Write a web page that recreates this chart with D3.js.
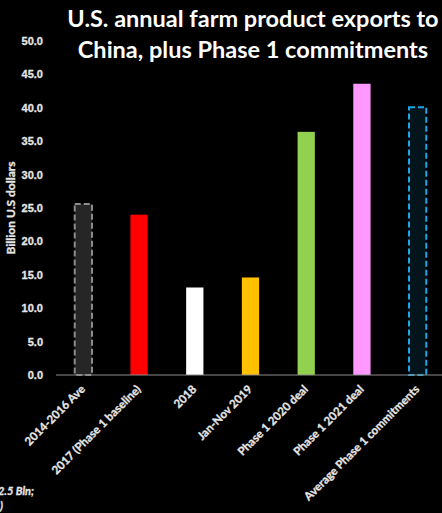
<!DOCTYPE html>
<html lang="en">
<head>
    <meta charset="UTF-8">
    <title>U.S. farm exports to China</title>
    <script src="https://d3js.org/d3.v7.min.js"></script>
    <style>
        body { margin: 0; background: #000; }
        svg { display: block; font-family: Lato, "Open Sans", sans-serif; }
        .small { font-size: 11px; font-weight: bold; fill: #e6e6e6; stroke: #e6e6e6; stroke-width: 0.3px; }
    </style>
</head>
<body>
    <div id="chart"></div>

    <script>
        // chart values (billion US dollars)
        const categories = ["2014-2016 Ave", "2017 (Phase 1 baseline)", "2018", "Jan-Nov 2019",
                            "Phase 1 2020 deal", "Phase 1 2021 deal", "Average Phase 1 commitments"];
        const values = [25.6, 24.0, 13.1, 14.6, 36.4, 43.6, 40.1];
        const fills = ["#262626", "#ff0000", "#ffffff", "#ffc000", "#92d050", "#ff99ff", "#04141d"];
        const outlines = ["#8c8c8c", null, null, null, null, null, "#1aa7e6"];
        const yTicks = [0, 5, 10, 15, 20, 25, 30, 35, 40, 45, 50];
        const titleLines = ["U.S. annual farm product exports to", "China, plus Phase 1 commitments"];

        const width = 442, height = 513;
        const margin = { top: 41, right: -3, bottom: 138, left: 55 };

        const svg = d3.select("#chart").append("svg")
            .attr("width", width)
            .attr("height", height);

        svg.append("rect").attr("width", width).attr("height", height).attr("fill", "#000");

        const x = d3.scaleBand()
            .domain(categories)
            .range([margin.left, width - margin.right])
            .paddingInner(0.69)
            .paddingOuter(0.345);

        const y = d3.scaleLinear()
            .domain([0, 50])
            .range([height - margin.bottom, margin.top]);

        // y axis labels
        const yAxis = svg.append("g")
            .attr("transform", `translate(${margin.left - 4},0)`)
            .call(d3.axisLeft(y).tickValues(yTicks).tickFormat(d3.format(".1f")).tickSize(0).tickPadding(8));
        yAxis.select(".domain").remove();
        yAxis.selectAll("text")
            .attr("class", "small")
            .attr("fill", null)
            .attr("font-size", null);

        svg.append("text")
            .attr("class", "small")
            .attr("transform", `translate(15,${y(25)}) rotate(-90)`)
            .attr("text-anchor", "middle")
            .style("font-size", "12px")
            .text("Billion U.S dollars");

        // bars
        svg.selectAll(".bar")
            .data(values)
            .enter().append("rect")
            .attr("class", "bar")
            .attr("x", (d, i) => x(categories[i]) + 0.5)
            .attr("y", d => y(d))
            .attr("width", x.bandwidth())
            .attr("height", d => y(0) - y(d))
            .attr("fill", (d, i) => fills[i])
            .attr("stroke", (d, i) => outlines[i] || "none")
            .attr("stroke-width", 2)
            .attr("stroke-dasharray", "6,3");

        // baseline
        svg.append("line")
            .attr("x1", margin.left + 1).attr("x2", width)
            .attr("y1", y(0)).attr("y2", y(0))
            .attr("stroke", "#8c8c8c")
            .attr("stroke-width", 1);

        // x labels
        svg.selectAll(".xlab")
            .data(categories)
            .enter().append("text")
            .attr("class", "small")
            .attr("transform", d => `translate(${x(d) + x.bandwidth() / 2 + 3},${y(0) + 15}) rotate(-45)`)
            .attr("text-anchor", "end")
            .style("font-size", "11.5px")
            .text(d => d);

        // title
        svg.selectAll(".title")
            .data(titleLines)
            .enter().append("text")
            .attr("class", "title")
            .attr("x", 253)
            .attr("y", (d, i) => 27 + i * 31)
            .attr("text-anchor", "middle")
            .attr("fill", "#ffffff")
            .style("font-size", "23.5px")
            .style("font-weight", "bold")
            .text(d => d);

        // footnote, cut off at the left edge as in the source
        svg.append("text")
            .attr("class", "small")
            .attr("x", 34).attr("y", 495)
            .attr("text-anchor", "end")
            .style("font-style", "italic")
            .text("Average Phase 1 commitments: $32.5 Bln;");
        svg.append("text")
            .attr("class", "small")
            .attr("x", 3).attr("y", 510)
            .attr("text-anchor", "end")
            .style("font-style", "italic")
            .text("(USDA)");
    </script>
</body>
</html>
